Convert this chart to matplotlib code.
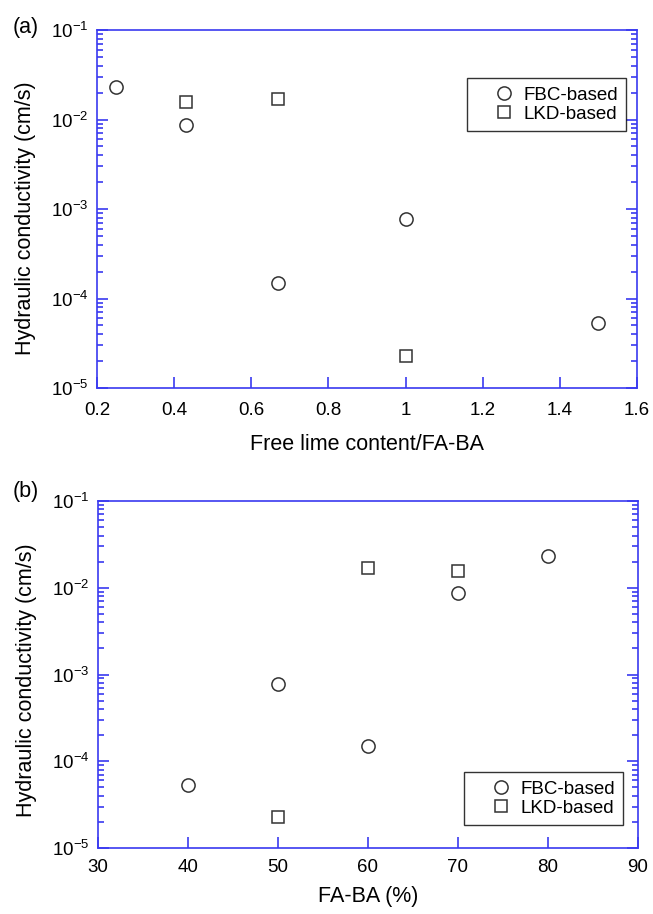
import math
import matplotlib
matplotlib.use("Agg")
import matplotlib.pyplot as plt
from matplotlib.ticker import LogLocator, FixedLocator, FuncFormatter, NullLocator

plt.rcParams['font.family'] = ['Liberation Sans', 'DejaVu Sans']
plt.rcParams['mathtext.fontset'] = 'custom'
plt.rcParams['mathtext.rm'] = 'Liberation Sans'
plt.rcParams['mathtext.it'] = 'Liberation Sans'
plt.rcParams['mathtext.default'] = 'regular'

# Panel (a): free lime content / FA-BA
fbc_lime = [0.25, 0.43, 0.67, 1.0, 1.5]
fbc_k_a = [2.3e-2, 8.7e-3, 1.5e-4, 7.7e-4, 5.3e-5]
lkd_lime = [0.43, 0.67, 1.0]
lkd_k_a = [1.55e-2, 1.7e-2, 2.3e-5]

# Panel (b): FA-BA (%)
fbc_faba = [80, 70, 60, 50, 40]
fbc_k_b = [2.3e-2, 8.7e-3, 1.5e-4, 7.7e-4, 5.3e-5]
lkd_faba = [70, 60, 50]
lkd_k_b = [1.55e-2, 1.7e-2, 2.3e-5]

xticks_a = [0.2, 0.4, 0.6, 0.8, 1.0, 1.2, 1.4, 1.6]
xticklabels_a = ['0.2', '0.4', '0.6', '0.8', '1', '1.2', '1.4', '1.6']
xticks_b = [30, 40, 50, 60, 70, 80, 90]
xticklabels_b = ['30', '40', '50', '60', '70', '80', '90']

W, H = 653, 914
fig = plt.figure(figsize=(W / 100, H / 100), dpi=100)

blue = '#3a3af0'
mk_edge = '#333333'
fs_tick = 13.5
fs_lab = 15.5
fs_leg = 13.5


def pix_axes(l, t, r, b):
    return fig.add_axes([l / W, 1 - b / H, (r - l) / W, (b - t) / H])


def yfmt(v, pos):
    e = int(round(math.log10(v)))
    return r'$10^{%d}$' % e


def style(ax, xticks, xlabels, xlim):
    ax.set_yscale('log')
    ax.set_ylim(1e-5, 1e-1)
    ax.set_xlim(*xlim)
    ax.xaxis.set_major_locator(FixedLocator(xticks))
    ax.set_xticklabels(xlabels)
    ax.xaxis.set_minor_locator(NullLocator())
    ax.yaxis.set_major_locator(LogLocator(base=10, numticks=10))
    ax.yaxis.set_minor_locator(LogLocator(base=10, subs=range(2, 10), numticks=20))
    ax.yaxis.set_major_formatter(FuncFormatter(yfmt))
    for s in ax.spines.values():
        s.set_color(blue)
        s.set_linewidth(1.2)
    ax.tick_params(axis='both', which='both', direction='in', colors=blue,
                   labelcolor='black', labelsize=fs_tick, width=1.2)
    ax.tick_params(axis='y', which='both', right=True, left=True)
    ax.tick_params(axis='x', which='both', top=False, bottom=True)
    ax.tick_params(axis='both', which='major', length=8)
    ax.tick_params(axis='x', which='major', pad=10)
    ax.tick_params(axis='y', which='major', pad=6)
    ax.tick_params(axis='y', which='minor', length=4)


def legend(ax, x0, y0):
    leg = ax.legend(loc='upper left', bbox_to_anchor=(x0 / W, 1 - y0 / H),
                    bbox_transform=fig.transFigure, borderaxespad=0,
                    fontsize=fs_leg, frameon=True, fancybox=False,
                    edgecolor='black', handlelength=3.0, handletextpad=-0.45,
                    labelspacing=0.1, borderpad=0.45)
    leg.get_frame().set_linewidth(1.0)


ms = 9.5
# Panel (a)
ax1 = pix_axes(97, 30, 637, 388)
ax1.plot(fbc_lime, fbc_k_a, linestyle='none', marker='o', ms=ms, mfc='none',
         mec=mk_edge, mew=1.1, label='FBC-based')
ax1.plot(lkd_lime, lkd_k_a, linestyle='none', marker='s', ms=ms - 0.5, mfc='none',
         mec=mk_edge, mew=1.1, label='LKD-based')
style(ax1, xticks_a, xticklabels_a, (0.2, 1.6))
ax1.set_xlabel('Free lime content/FA-BA', fontsize=fs_lab, labelpad=11)
ax1.set_ylabel('Hydraulic conductivity (cm/s)', fontsize=fs_lab, labelpad=11)
ax1.yaxis.label.set_y(0.475)
legend(ax1, 467, 78)
fig.text(13 / W, 1 - 27 / H, '(a)', fontsize=fs_lab, va='center', ha='left')

# Panel (b)
ax2 = pix_axes(98, 501, 638, 848)
ax2.plot(fbc_faba, fbc_k_b, linestyle='none', marker='o', ms=ms, mfc='none',
         mec=mk_edge, mew=1.1, label='FBC-based')
ax2.plot(lkd_faba, lkd_k_b, linestyle='none', marker='s', ms=ms - 0.5, mfc='none',
         mec=mk_edge, mew=1.1, label='LKD-based')
style(ax2, xticks_b, xticklabels_b, (30, 90))
ax2.tick_params(axis='x', which='major', pad=8)
ax2.set_xlabel('FA-BA (%)', fontsize=fs_lab, labelpad=7)
ax2.set_ylabel('Hydraulic conductivity (cm/s)', fontsize=fs_lab, labelpad=11)
ax2.yaxis.label.set_y(0.485)
legend(ax2, 464, 772)
fig.text(13 / W, 1 - 492 / H, '(b)', fontsize=fs_lab, va='center', ha='left')

fig.savefig('out.png', dpi=100)
